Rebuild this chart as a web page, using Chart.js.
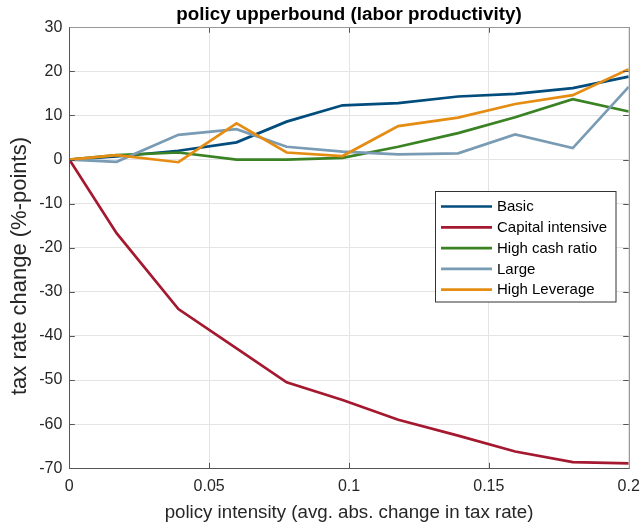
<!DOCTYPE html>
<html>
<head>
<meta charset="utf-8">
<script src="https://cdn.jsdelivr.net/npm/chart.js@4.4.0/dist/chart.umd.min.js"></script>
<style>
html,body{margin:0;padding:0;background:#fff;}
#wrap{width:644px;height:529px;}
</style>
</head>
<body>
<div id="wrap"><canvas id="c" width="644" height="529"></canvas></div>
<script>
const intensity = [0, 0.0169, 0.039, 0.0598, 0.0777, 0.0977, 0.1176, 0.139, 0.1594, 0.180, 0.2];
const seriesNames = ['Basic', 'Capital intensive', 'High cash ratio', 'Large', 'High Leverage'];
const basic      = [0, 0.7, 2.0, 3.9, 8.6, 12.3, 12.8, 14.3, 14.9, 16.2, 18.8];
const capital    = [0, -16.7, -33.9, -42.8, -50.5, -54.5, -59.0, -62.6, -66.2, -68.6, -68.9];
const highCash   = [0, 1.0, 1.6, 0.0, 0.0, 0.4, 2.9, 6.0, 9.6, 13.7, 10.9];
const large      = [0, -0.5, 5.6, 6.9, 2.9, 1.8, 1.2, 1.4, 5.7, 2.6, 16.5];
const highLev    = [0, 1.0, -0.6, 8.2, 1.6, 0.8, 7.6, 9.5, 12.6, 14.6, 20.5];
const xTicks = [0, 0.05, 0.1, 0.15, 0.2];
const yTicks = [-70, -60, -50, -40, -30, -20, -10, 0, 10, 20, 30];
const yLabel = 'tax rate change (%-points)';

const colors = ['rgb(0,76,124)', 'rgb(165,25,48)', 'rgb(58,130,35)', 'rgb(122,155,180)', 'rgb(229,140,18)'];
const allSeries = [basic, capital, highCash, large, highLev];

const FONT = "'Liberation Sans', Arial, Helvetica, sans-serif";

const datasets = allSeries.map((s, i) => ({
  label: seriesNames[i],
  data: s.map((v, k) => ({x: intensity[k], y: v})),
  borderColor: colors[i],
  backgroundColor: colors[i],
  borderWidth: 2.7,
  pointRadius: 0,
  fill: false,
  tension: 0,
  order: allSeries.length - 1 - i
}));

const boxPlugin = {
  id: 'boxPlugin',
  afterDraw(chart) {
    const {ctx, chartArea: a, scales: {x, y}} = chart;
    ctx.save();
    ctx.lineWidth = 1;
    ctx.strokeStyle = '#555';
    const tl = 5.5;
    ctx.beginPath();
    yTicks.forEach(v => {
      const py = Math.round(y.getPixelForValue(v)) + 0.5;
      ctx.moveTo(a.left, py); ctx.lineTo(a.left + tl, py);
      ctx.moveTo(a.right, py); ctx.lineTo(a.right - tl, py);
    });
    xTicks.forEach(v => {
      const px = Math.round(x.getPixelForValue(v)) + 0.5;
      ctx.moveTo(px, a.bottom); ctx.lineTo(px, a.bottom - tl);
      ctx.moveTo(px, a.top); ctx.lineTo(px, a.top + tl);
    });
    ctx.stroke();
    const L = Math.round(a.left) + 0.5, R = Math.round(a.right) + 0.5;
    const T = Math.round(a.top) + 0.5, B = Math.round(a.bottom) + 0.5;
    ctx.strokeStyle = '#999';
    ctx.beginPath();
    ctx.moveTo(L, T); ctx.lineTo(R, T); ctx.lineTo(R, B);
    ctx.stroke();
    ctx.strokeStyle = '#555';
    ctx.beginPath();
    ctx.moveTo(L, T); ctx.lineTo(L, B); ctx.lineTo(R, B);
    ctx.stroke();

    // y axis label
    ctx.save();
    ctx.translate(20, 266);
    ctx.rotate(-Math.PI / 2);
    ctx.font = '22px ' + FONT;
    ctx.fillStyle = '#262626';
    ctx.textAlign = 'center';
    ctx.textBaseline = 'middle';
    ctx.fillText(yLabel, 0, 0);
    ctx.restore();

    // legend
    const lx = 435.5, ly = 191.5, lw = 180.5, lh = 110.5;
    ctx.fillStyle = '#fff';
    ctx.fillRect(lx, ly, lw, lh);
    ctx.strokeStyle = '#333';
    ctx.strokeRect(lx, ly, lw, lh);
    ctx.font = '15px ' + FONT;
    ctx.textBaseline = 'middle';
    ctx.textAlign = 'left';
    seriesNames.forEach((n, i) => {
      const yy = 206.5 + i * 20.8;
      ctx.strokeStyle = colors[i];
      ctx.lineWidth = 2.7;
      ctx.beginPath();
      ctx.moveTo(441, yy); ctx.lineTo(492, yy);
      ctx.stroke();
      ctx.fillStyle = '#000';
      ctx.fillText(n, 497, yy + 0.5);
    });
    ctx.restore();
  }
};

new Chart(document.getElementById('c'), {
  type: 'line',
  data: {datasets},
  plugins: [boxPlugin],
  options: {
    responsive: false,
    animation: false,
    layout: {padding: {left: 0, right: 15.3, top: 0, bottom: 0}},
    plugins: {
      legend: {display: false},
      tooltip: {enabled: false},
      title: {
        display: true,
        text: 'policy upperbound (labor productivity)',
        fullSize: false,
        color: '#000',
        font: {family: FONT, size: 18.8, weight: 'bold'},
        padding: {top: 3.2, bottom: 1.5}
      }
    },
    scales: {
      x: {
        type: 'linear',
        min: 0, max: 0.2,
        afterBuildTicks(scale) { scale.ticks = xTicks.map(v => ({value: v})); },
        afterFit(scale) { scale.height = 60.7; scale.paddingLeft = 0; scale.paddingRight = 0; },
        ticks: {
          color: '#262626',
          font: {family: FONT, size: 16},
          padding: 9,
          maxRotation: 0,
          callback: v => String(+Number(v).toFixed(2))
        },
        grid: {color: '#e4e4e4', lineWidth: 1, drawTicks: false},
        border: {display: false},
        title: {
          display: true,
          text: 'policy intensity (avg. abs. change in tax rate)',
          color: '#262626',
          font: {family: FONT, size: 18.7},
          padding: {top: 0, bottom: 5}
        }
      },
      y: {
        type: 'linear',
        min: -70, max: 30,
        afterBuildTicks(scale) { scale.ticks = yTicks.map(v => ({value: v})); },
        afterFit(scale) { scale.width = 69.3; scale.paddingTop = 0; scale.paddingBottom = 0; },
        ticks: {
          color: '#262626',
          font: {family: FONT, size: 16},
          padding: 7
        },
        grid: {color: '#e4e4e4', lineWidth: 1, drawTicks: false},
        border: {display: false},
        title: {display: false}
      }
    }
  }
});
</script>
</body>
</html>
